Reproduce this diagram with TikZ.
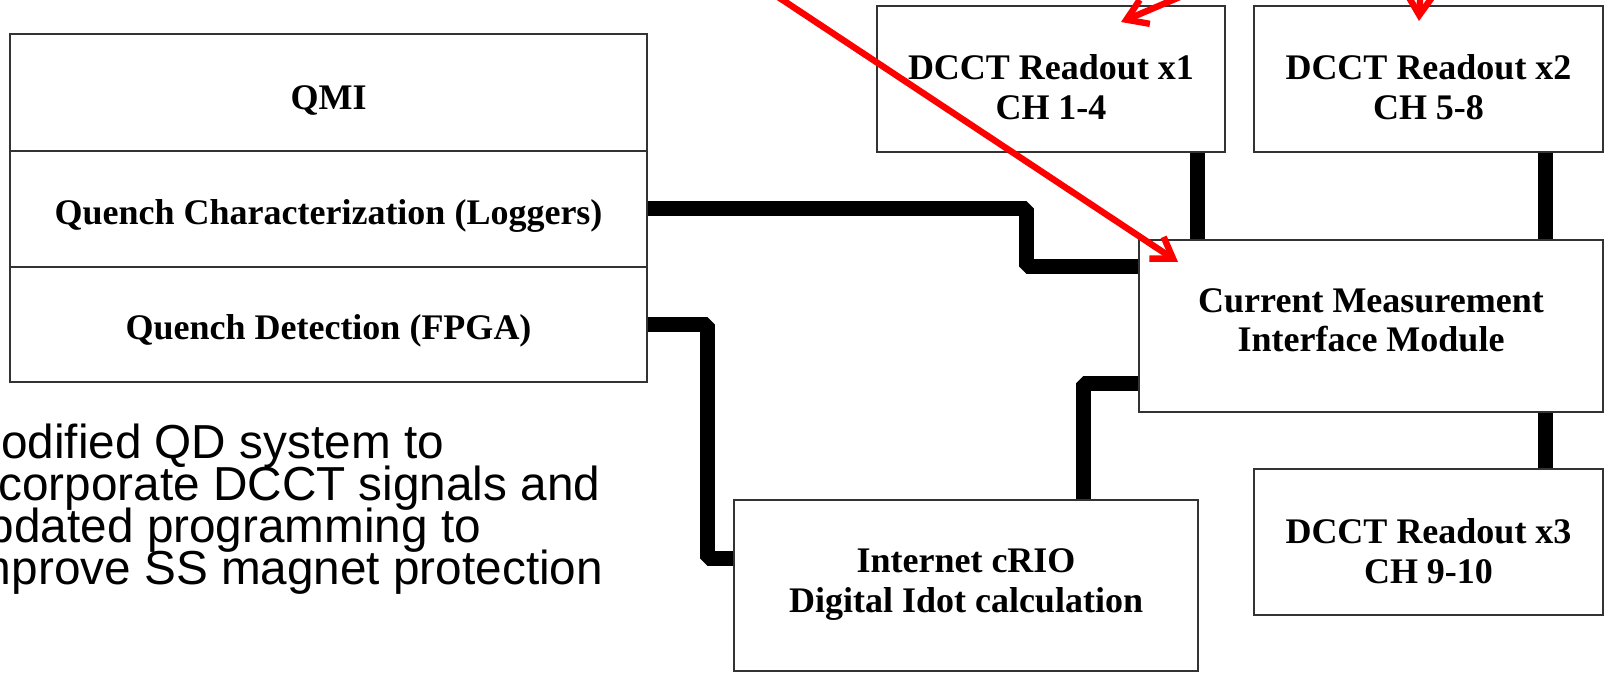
\documentclass[tikz,border=0pt]{standalone}
\usepackage{fontspec}
\setmainfont{Liberation Serif}
\newfontfamily\arialf{Liberation Sans}
\usetikzlibrary{arrows.meta,fit,calc}
\begin{document}
\begin{tikzpicture}[x=0.5pt,y=-0.5pt,
  box/.style={draw=black!80,line width=1pt,inner sep=0pt},
  lbl/.style={font=\bfseries\fontsize{18}{20}\selectfont,align=center,inner sep=0pt,text=black},
  conn/.style={line width=7.5pt,line join=bevel},
  redarr/.style={draw=red,line width=3.2pt,-{Straight Barb[length=10pt,width=13pt]}},
  note/.style={font=\arialf\fontsize{23.85}{21}\selectfont,anchor=base west,inner sep=0pt,text=black}]
\useasboundingbox (0,0) rectangle (1605,673);
\fill[white] (0,0) rectangle (1605,673);
\clip (0,0) rectangle (1605,673);

% QMI stack
\node[box,fit={(10,34) (647,151)},label={[lbl,yshift=-4.75pt]center:\strut QMI}] (qmi) {};
\node[box,fit={(10,151) (647,267)},label={[lbl,yshift=-4pt]center:\strut Quench Characterization (Loggers)}] (qc) {};
\node[box,fit={(10,267) (647,382)},label={[lbl,yshift=-3.75pt]center:\strut Quench Detection (FPGA)}] (qd) {};

% DCCT readouts
\node[box,fit={(877,6) (1225,152)},label={[lbl,yshift=-6.5pt]center:{\strut DCCT Readout x1\\\strut CH 1-4}}] (d1) {};
\node[box,fit={(1254,6) (1603,152)},label={[lbl,yshift=-6.5pt]center:{\strut DCCT Readout x2\\\strut CH 5-8}}] (d2) {};
\node[box,fit={(1254,469) (1603,615)},label={[lbl,yshift=-6.5pt]center:{\strut DCCT Readout x3\\\strut CH 9-10}}] (d3) {};

% Current measurement interface module
\node[box,fit={(1139,240) (1603,412)},label={[lbl,yshift=1pt]center:{\strut Current Measurement\\\strut Interface Module}}] (cm) {};

% cRIO
\node[box,fit={(734,500) (1198,671)},label={[lbl,yshift=0.75pt]center:{\strut Internet cRIO\\\strut Digital Idot calculation}}] (crio) {};

% thick connectors
\draw[conn] (qc.east) -- ++(378,0) |- ([yshift=29.5pt]cm.west);
\draw[conn] (qd.east) -- ++(59,0) |- ([yshift=13.75pt]crio.west);
\draw[conn] ([xshift=58.5pt]crio.north) |- ([yshift=-29pt]cm.west);
\draw[conn] ([xshift=73pt]d1.south) -- ([xshift=73pt]d1.south |- cm.north);
\draw[conn] ([xshift=58.25pt]d2.south) -- ([xshift=58.25pt]d2.south |- cm.north);
\draw[conn] ([xshift=58.25pt]d3.north) -- ([xshift=58.25pt]d3.north |- cm.south);

% note text (cut at the left edge)
\node[note] (n1) at (-39,458) {Modified QD system to};
\node[note] (n2) at (-39,500) {incorporate DCCT signals and};
\node[note] (n3) at (-39,542) {updated programming to};
\node[note] (n4) at (-39,584) {improve SS magnet protection};

% red arrows coming from outside the picture
\coordinate (r1s) at (763,-13);
\coordinate (r2s) at (1201,-12);
\coordinate (r3s) at (1421,-20);
\draw[redarr] (r1s) -- ([xshift=20pt,yshift=-11.5pt]cm.north west);
\draw[redarr] (r2s) -- ([xshift=-52.5pt,yshift=-8.5pt]d1.north east);
\draw[redarr] (r3s) -- ([xshift=-4.75pt,yshift=-8pt]d2.north);
\end{tikzpicture}
\end{document}
